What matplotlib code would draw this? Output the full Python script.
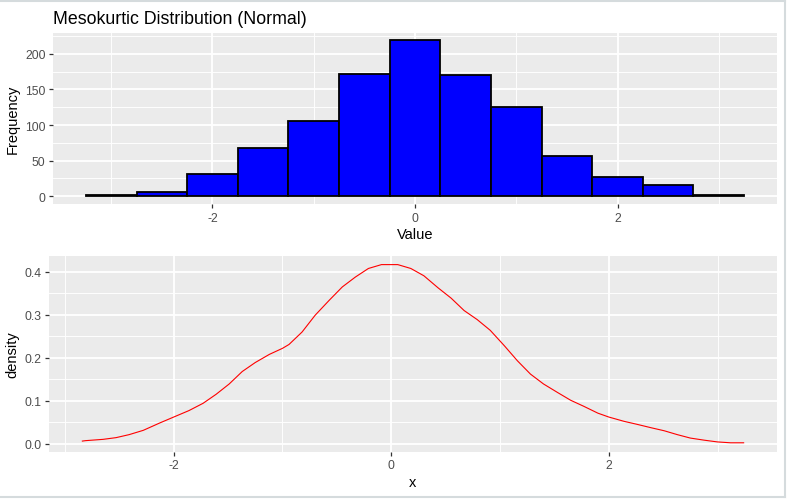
import numpy as np
import matplotlib
matplotlib.use("Agg")
import matplotlib.pyplot as plt
from matplotlib.lines import Line2D
from matplotlib.ticker import MultipleLocator

plt.rcParams['font.family'] = ['Liberation Sans', 'DejaVu Sans']
plt.rcParams['axes.unicode_minus'] = False

# histogram (binwidth 0.5)
bin_centers = [-3.0, -2.5, -2.0, -1.5, -1.0, -0.5, 0.0, 0.5, 1.0, 1.5, 2.0, 2.5, 3.0]
counts = [1, 6, 31, 68, 106, 172, 219, 170, 126, 57, 27, 16, 1]

# density curve
dens_x = [-2.84, -2.81, -2.65, -2.53, -2.41, -2.28, -2.13, -2.0, -1.86, -1.73, -1.61,
          -1.49, -1.37, -1.25, -1.12, -1.0, -0.94, -0.82, -0.70, -0.57, -0.45, -0.33,
          -0.21, -0.09, 0.0, 0.06, 0.18, 0.30, 0.43, 0.55, 0.67, 0.79, 0.91, 1.04,
          1.16, 1.28, 1.40, 1.53, 1.65, 1.77, 1.90, 2.0, 2.14, 2.26, 2.39, 2.51, 2.63,
          2.75, 2.88, 3.0, 3.12, 3.24]
dens_y = [0.006, 0.007, 0.010, 0.014, 0.021, 0.031, 0.048, 0.062, 0.077, 0.094, 0.115,
          0.139, 0.168, 0.189, 0.208, 0.222, 0.231, 0.260, 0.299, 0.334, 0.365, 0.388,
          0.408, 0.417, 0.417, 0.417, 0.408, 0.391, 0.363, 0.339, 0.310, 0.289, 0.264,
          0.228, 0.193, 0.162, 0.139, 0.119, 0.101, 0.087, 0.071, 0.062, 0.052, 0.045,
          0.037, 0.030, 0.021, 0.013, 0.008, 0.004, 0.002, 0.002]

W, H = 787, 502
fig = plt.figure(figsize=(W / 100, H / 100), dpi=100)

def px_axes(l, t, r, b):
    return fig.add_axes([l / W, 1 - b / H, (r - l) / W, (b - t) / H])

def gg_style(ax):
    ax.set_facecolor('#EBEBEB')
    for s in ax.spines.values():
        s.set_visible(False)
    ax.grid(which='major', color='white', linewidth=1.3)
    ax.grid(which='minor', color='white', linewidth=0.65)
    ax.set_axisbelow(True)
    ax.tick_params(which='major', length=2.9, width=0.9, color='#333333',
                   labelcolor='#4D4D4D', labelsize=8.7, pad=2.5)
    ax.tick_params(which='minor', length=0)

# top: histogram
ax1 = px_axes(53, 33.5, 777, 205)
gg_style(ax1)
ax1.bar(bin_centers, counts, width=0.5, color='blue', edgecolor='black', linewidth=1.3)
ax1.set_xlim(-3.575, 3.575)
ax1.set_ylim(-219 * 0.05, 219 * 1.05)
ax1.xaxis.set_major_locator(MultipleLocator(2))
ax1.xaxis.set_minor_locator(MultipleLocator(1))
ax1.yaxis.set_major_locator(MultipleLocator(50))
ax1.yaxis.set_minor_locator(MultipleLocator(25))
ax1.set_xlabel('Value', fontsize=10.5, labelpad=2.5)
ax1.set_ylabel('Frequency', fontsize=10.5, labelpad=3.5)
fig.text(53 / W, 1 - 24 / H, 'Mesokurtic Distribution (Normal)', fontsize=12.8,
         ha='left', va='baseline')

# bottom: density
ax2 = px_axes(49.3, 256.7, 776.7, 452.7)
gg_style(ax2)
ax2.plot(dens_x, dens_y, color='red', linewidth=0.8)
xr = max(dens_x) - min(dens_x)
yr = max(dens_y) - min(dens_y)
ax2.set_xlim(min(dens_x) - 0.05 * xr, max(dens_x) + 0.05 * xr)
ax2.set_ylim(min(dens_y) - 0.05 * yr, max(dens_y) + 0.05 * yr)
ax2.xaxis.set_major_locator(MultipleLocator(2))
ax2.xaxis.set_minor_locator(MultipleLocator(1))
ax2.yaxis.set_major_locator(MultipleLocator(0.1))
ax2.yaxis.set_minor_locator(MultipleLocator(0.05))
ax2.yaxis.set_major_formatter(plt.FormatStrFormatter('%.1f'))
ax2.set_xlabel('x', fontsize=10.5, labelpad=2.5)
ax2.set_ylabel('density', fontsize=10.5, labelpad=3.5)

# light frame around the image
fc = '#D5DBDD'
fig.add_artist(Line2D([0, 785 / W], [1 - 1.5 / H] * 2, color=fc, linewidth=1.5))
fig.add_artist(Line2D([785 / W] * 2, [1 - 1.5 / H, 1 - 498 / H], color=fc, linewidth=1.5))
fig.add_artist(Line2D([0, 785 / W], [1 - 498 / H] * 2, color=fc, linewidth=1.5))

fig.savefig('out.png', dpi=100)
